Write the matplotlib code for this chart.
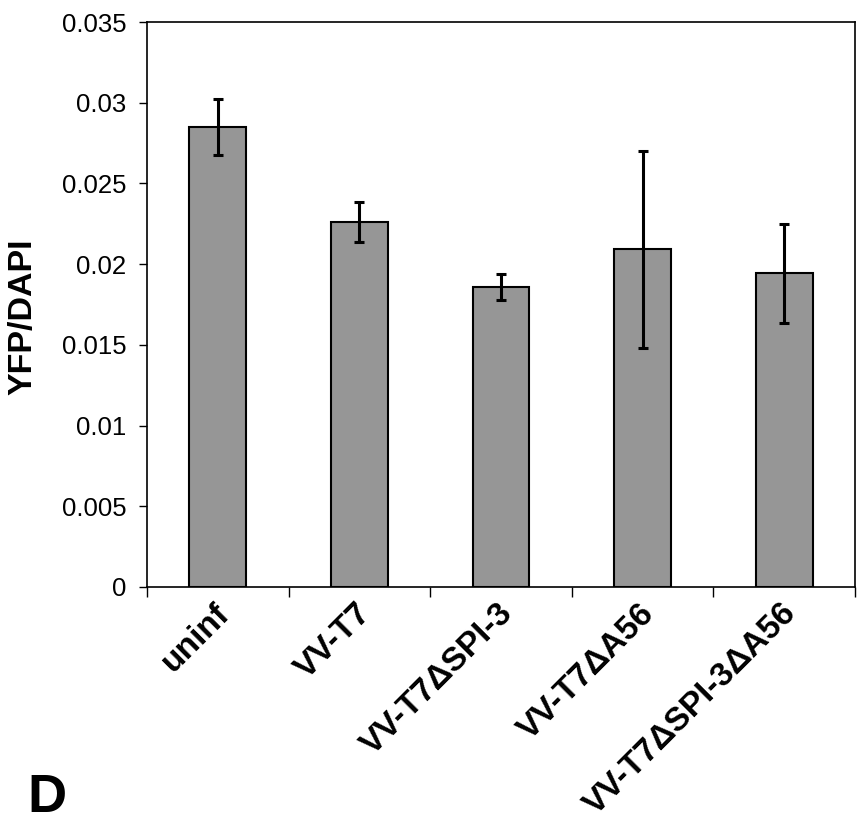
import matplotlib.pyplot as plt
import matplotlib.transforms as mtransforms
import numpy as np

# Ratio YFP/DAPI per virus
groups = ['uninf', 'VV-T7', 'VV-T7ΔSPI-3', 'VV-T7ΔA56', 'VV-T7ΔSPI-3ΔA56']
ratio = [0.0285, 0.0226, 0.01857, 0.02092, 0.01943]
ratio_err = [0.00172, 0.00122, 0.00081, 0.00610, 0.00306]
y_ticks = [0, 0.005, 0.01, 0.015, 0.02, 0.025, 0.03, 0.035]
y_tick_labels = ['0', '0.005', '0.01', '0.015', '0.02', '0.025', '0.03', '0.035']

plt.rcParams['font.family'] = ['Liberation Sans', 'DejaVu Sans']

fig = plt.figure(figsize=(8.64, 8.25), dpi=100)
ax = fig.add_axes([147 / 864, 1 - 587 / 825, (855 - 147) / 864, (587 - 22) / 825])

x = np.arange(len(groups))
ax.bar(x, ratio, width=0.4, color='#969696', edgecolor='black', linewidth=1.5, zorder=2)
ax.errorbar(x, ratio, yerr=ratio_err, fmt='none', ecolor='black',
            elinewidth=2.2, capsize=3.6, capthick=2.2, zorder=3)

ax.set_xlim(-0.5, len(groups) - 0.5)
ax.set_ylim(0, 0.035)
ax.set_yticks(y_ticks)
ax.set_yticklabels(y_tick_labels, fontsize=18.5)
ax.tick_params(axis='y', length=6, width=1, pad=9, direction='out')

# labels at bar centres, tick marks at category boundaries
ax.set_xticks(x)
ax.set_xticklabels(groups, fontsize=24, fontweight='bold', rotation=45,
                   ha='right', va='center', rotation_mode='anchor')
ax.tick_params(axis='x', which='major', length=0, pad=12)
ax.set_xticks(np.arange(len(groups) + 1) - 0.5, minor=True)
ax.tick_params(axis='x', which='minor', length=7, width=1, direction='out')

shift = mtransforms.ScaledTranslation(0.07, -0.05, fig.dpi_scale_trans)
for lab in ax.get_xticklabels():
    lab.set_transform(lab.get_transform() + shift)

for s in ax.spines.values():
    s.set_linewidth(1.2)

ax.set_ylabel('YFP/DAPI', fontsize=24.5, fontweight='bold')
ax.yaxis.set_label_coords(-0.153, 0.478)

fig.text(27 / 864, 1 - 812 / 825, 'D', fontsize=39, fontweight='bold', va='baseline', ha='left')

fig.savefig('out.png', dpi=100)
